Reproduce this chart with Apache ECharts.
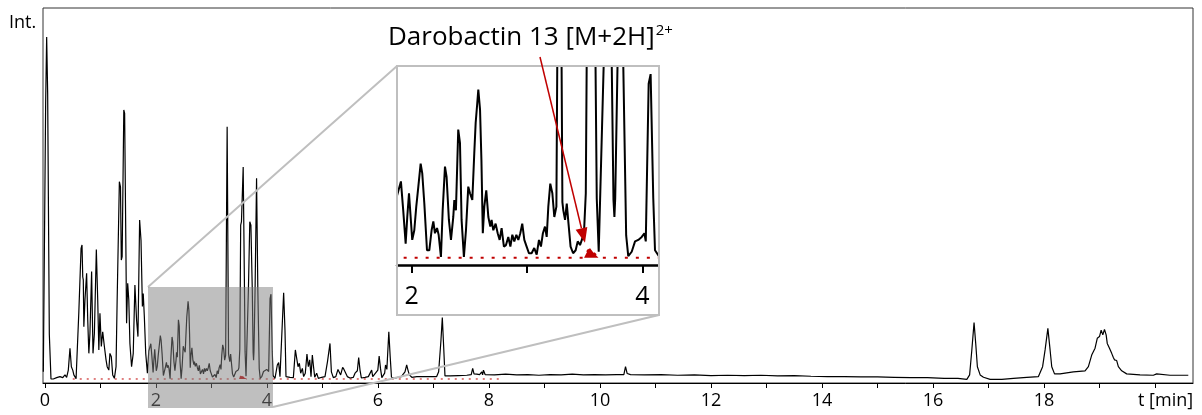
<!DOCTYPE html>
<html>
<head>
<meta charset="utf-8">
<script src="https://cdn.jsdelivr.net/npm/echarts@6/dist/echarts.min.js"></script>
<style>
  html, body { margin: 0; padding: 0; background: #fff; }
  #chart { width: 1202px; height: 415px; }
</style>
</head>
<body>
<div id="chart"></div>
<script>
// Total ion chromatogram, [retention time (min), relative intensity]
const ticEarly = [
  [-0.03, 2.1], [-0.006, 2.6], [0.012, 81], [0.03, 100], [0.048, 83.5], [0.078, 13], [0.108, 0],
  [0.15, 0], [0.21, 0.4], [0.27, 0.7], [0.32, 0.4], [0.36, 1.2], [0.39, 0.5], [0.42, 2.6],
  [0.45, 9.0], [0.475, 3.6], [0.5, 2.6], [0.52, 1.2], [0.56, 0.1], [0.595, 0.1], [0.61, 19.7],
  [0.63, 19.2], [0.65, 38.2], [0.667, 39.2], [0.68, 29.9], [0.69, 29], [0.70, 15.3], [0.72, 23.1],
  [0.75, 30.9], [0.77, 17.3], [0.79, 7.5], [0.81, 13.4], [0.84, 31.4], [0.865, 7.5], [0.89, 13.4],
  [0.925, 37.9], [0.95, 23.1], [0.97, 8.5], [0.99, 19.2], [1.015, 9.5], [1.04, 13.8], [1.07, 9.5],
  [1.10, 5.6], [1.12, 3.6], [1.15, 2.6], [1.17, 7.5], [1.195, 6.5], [1.22, 1.2], [1.25, 0.2],
  [1.28, 3.6], [1.30, 23.1], [1.34, 57.7], [1.36, 56.2], [1.375, 34.8], [1.39, 35.8], [1.42, 78.7],
  [1.435, 77.7], [1.455, 42.6], [1.47, 16.3], [1.49, 28], [1.51, 23.1], [1.53, 10.4], [1.56, 3.6],
  [1.59, 7.5], [1.62, 27.5], [1.65, 17.3], [1.675, 12.4], [1.705, 46.5], [1.73, 40.6], [1.755, 21.2],
  [1.77, 25], [1.79, 18.2], [1.815, 7.5], [1.845, 1.7]
];
const ticZoomed = [
  [1.87, 8.2], [1.907, 10.3], [1.927, 6.4], [1.948, 1.9], [1.962, 5.5], [1.977, 8.7], [1.991, 8.7],
  [2.005, 2.4], [2.023, 3.7], [2.04, 6.9], [2.058, 9.6], [2.078, 12.7], [2.092, 11.4], [2.11, 7.3],
  [2.133, 1.0], [2.153, 1.0], [2.173, 3.7], [2.188, 4.9], [2.202, 3.3], [2.22, 4.0], [2.234, 3.1],
  [2.254, 0.1], [2.269, 6.4], [2.289, 12.3], [2.303, 10.9], [2.323, 5.1], [2.341, 2.4], [2.361, 5.5],
  [2.37, 7.8], [2.384, 6.4], [2.404, 17.3], [2.419, 15.5], [2.433, 5.1], [2.453, 0.1], [2.471, 3.7],
  [2.491, 9.6], [2.506, 8.7], [2.526, 7.8], [2.543, 14.1], [2.555, 18.2], [2.569, 20.9], [2.578, 22.7],
  [2.593, 20.0], [2.605, 13.2], [2.617, 3.3], [2.63, 6.9], [2.647, 9.1], [2.665, 5.5], [2.682, 4.2],
  [2.693, 5.1], [2.708, 3.7], [2.728, 4.6], [2.746, 3.3], [2.763, 2.4], [2.78, 4.0], [2.8, 1.5],
  [2.818, 1.7], [2.838, 2.8], [2.856, 1.5], [2.873, 3.1], [2.89, 2.2], [2.908, 3.1], [2.925, 2.4],
  [2.942, 3.3], [2.959, 4.6], [2.977, 2.4], [2.997, 1.5], [3.017, 0.6], [3.04, 0.6], [3.063, 1.3],
  [3.084, 0.4], [3.104, 2.4], [3.121, 1.5], [3.138, 3.3], [3.156, 4.2], [3.171, 2.8], [3.185, 6.9],
  [3.202, 10.0], [3.22, 8.7], [3.237, 5.5], [3.255, 6.9], [3.27, 45], [3.282, 73.8], [3.293, 45],
  [3.307, 7.5], [3.315, 6.4], [3.33, 5.1], [3.345, 7.3], [3.36, 4.6], [3.378, 1.5], [3.40, 0.6],
  [3.422, 1.0], [3.44, 2.2], [3.46, 1.7], [3.48, 2.6], [3.494, 3.3], [3.51, 8.7], [3.526, 45],
  [3.54, 46], [3.571, 62], [3.592, 30], [3.605, 8], [3.622, 0.8], [3.665, 26], [3.69, 46],
  [3.71, 45], [3.735, 26], [3.75, 7.8], [3.758, 5.5], [3.765, 8], [3.785, 26], [3.812, 58.7],
  [3.835, 26], [3.86, 3], [3.878, 0.2], [3.908, 0.8], [3.937, 2.2], [3.965, 2.4], [3.995, 2.8],
  [4.018, 3.3], [4.03, 2.2], [4.055, 23.5], [4.072, 24.8], [4.095, 8], [4.11, 1.0], [4.125, 0.8]
];
const ticLate = [
  [4.144, 0.2], [4.186, 4.1], [4.21, 4.8], [4.234, 0.7], [4.27, 0.5], [4.30, 25.2], [4.324, 14.3],
  [4.342, 0.7], [4.414, 0.5], [4.475, 0.4], [4.511, 8.5], [4.535, 8.7], [4.559, 3.6], [4.583, 4.6],
  [4.607, 1.7], [4.637, 3.1], [4.66, 0.7], [4.69, 1.7], [4.72, 7.3], [4.745, 3.6], [4.77, 5.6],
  [4.793, 0.7], [4.817, 7.0], [4.835, 4.1], [4.86, 0.5], [4.895, 1.7], [4.925, 0.2], [4.985, 0.5],
  [5.045, 0.7], [5.09, 5.1], [5.11, 4.6], [5.135, 10.4], [5.16, 2.1], [5.195, 0.4], [5.24, 0.7],
  [5.279, 2.8], [5.30, 2.6], [5.327, 1.2], [5.363, 3.4], [5.387, 2.8], [5.41, 2.6], [5.447, 0.7],
  [5.495, 0.3], [5.556, 0.5], [5.586, 1.7], [5.628, 2.4], [5.652, 6.3], [5.676, 2.6], [5.70, 0.3],
  [5.766, 0.5], [5.826, 0.7], [5.886, 2.6], [5.905, 0.7], [5.997, 2.6], [6.021, 6.7], [6.045, 3.1],
  [6.069, 0.4], [6.09, 0.7], [6.12, 1.7], [6.136, 4.1], [6.16, 2.8], [6.195, 13.8], [6.22, 6.5],
  [6.243, 0.5], [6.30, 0.2], [6.36, 0.5], [6.42, 0.7], [6.456, 0.7], [6.486, 2.1], [6.517, 4.1],
  [6.54, 2.6], [6.565, 1.2], [6.61, 0.5], [6.70, 0.7], [6.82, 0.7], [6.94, 0.7], [7.057, 0.7],
  [7.093, 2.1], [7.117, 1.7], [7.135, 11.4], [7.159, 18.0], [7.183, 9.5], [7.207, 0.9]
];
const ticTail = [
  [7.30, 0.9], [7.45, 1.0], [7.6, 1.1], [7.68, 1.3], [7.706, 3.1], [7.73, 1.5], [7.78, 1.4],
  [7.80, 1.9], [7.83, 1.3], [7.87, 2.1], [7.885, 1.2], [7.90, 2.6], [7.93, 1.3], [8.1, 1.2],
  [8.3, 1.4], [8.5, 1.2], [8.7, 1.3], [8.9, 1.1], [9.1, 1.3], [9.3, 1.2], [9.5, 1.4], [9.7, 1.2],
  [9.9, 1.3], [10.1, 1.2], [10.3, 1.3], [10.43, 1.3], [10.46, 3.6], [10.49, 1.6], [10.55, 1.3],
  [10.8, 1.2], [11.1, 1.3], [11.4, 1.1], [11.7, 1.2], [12.0, 1.0], [12.3, 1.1], [12.6, 1.0],
  [12.9, 1.1], [13.2, 0.9], [13.5, 1.0], [13.8, 0.8], [14.1, 0.7], [14.4, 0.7], [14.7, 0.6],
  [15.0, 0.6], [15.3, 0.5], [15.6, 0.4], [15.9, 0.4], [16.2, 0.2], [16.45, 0.2], [16.61, -0.1],
  [16.66, 1.2], [16.70, 8.5], [16.74, 16.5], [16.77, 10.4], [16.80, 3.6], [16.85, 1.2], [16.91, 0.5],
  [17.03, -0.1], [17.24, -0.1], [17.45, 0.2], [17.69, 0.5], [17.90, 0.7], [17.975, 3.6], [18.02, 8.5],
  [18.07, 14.8], [18.11, 8.5], [18.14, 3.6], [18.19, 1.5], [18.29, 1.5], [18.53, 2.1], [18.74, 2.4],
  [18.80, 3.6], [18.86, 7.0], [18.92, 9.0], [18.96, 11.9], [19.0, 12.4], [19.03, 14.3], [19.06, 12.9],
  [19.09, 14.5], [19.12, 12.9], [19.14, 10.4], [19.18, 9.0], [19.22, 7.5], [19.25, 6.3], [19.27, 5.6],
  [19.31, 5.4], [19.34, 3.6], [19.40, 2.4], [19.49, 1.5], [19.73, 1.2], [19.97, 1.1], [20.03, 1.5],
  [20.06, 1.1], [20.27, 1.1], [20.6, 1.1]
];

// Extracted ion trace of the doubly charged ion
const eicTime = [0.5, 3.495, 3.525, 3.546, 3.57, 3.62, 8.2];
const eicIntensity = [0, 0, 0.9, 1.3, 0.8, 0, 0];

// Axis ticks and labels (min)
const xTickValues = [0, 1, 2, 3, 4, 5, 6, 7, 8, 9, 10, 11, 12, 13, 14, 15, 16, 17, 18, 19, 20];
const xLabelValues = [0, 2, 4, 6, 8, 10, 12, 14, 16, 18];
const insetTickValues = [2, 3, 4];
const insetLabelValues = [2, 4];

// Zoomed window and annotated ion
const zoomWindow = [1.856, 4.108];
const zoomWindowTop = 26.9;
const ionApex = [3.503, 2.0];
const ionLabel = 'Darobactin 13 [M+2H]';
const ionCharge = '2+';

const FONT = '"Open Sans", "DejaVu Sans", sans-serif';
const RED = '#c00000';

const tic = ticEarly.concat(ticZoomed, ticLate, ticTail);
const eic = eicTime.map((t, k) => [t, eicIntensity[k]]);

const chart = echarts.init(document.getElementById('chart'), null, { renderer: 'canvas' });

chart.setOption({
  animation: false,
  grid: [
    { left: 43, right: 9, top: 8, bottom: 32, show: true, borderColor: '#333', borderWidth: 1 },
    { left: 397, top: 66, width: 261, height: 199 }
  ],
  xAxis: [
    {
      gridIndex: 0, type: 'value', min: -0.036, max: 20.685,
      axisLine: { onZero: false, lineStyle: { color: '#000', width: 1 } },
      axisTick: { length: 5, customValues: xTickValues, lineStyle: { color: '#000', width: 1 } },
      axisLabel: { customValues: xLabelValues, fontFamily: FONT, fontSize: 18, color: '#000', margin: 9 },
      splitLine: { show: false }
    },
    {
      gridIndex: 1, type: 'value', min: 1.873, max: 4.136,
      axisLine: { onZero: false, lineStyle: { color: '#000', width: 2.5 } },
      axisTick: { length: 8, customValues: insetTickValues, lineStyle: { color: '#000', width: 2 } },
      axisLabel: { customValues: insetLabelValues, fontFamily: FONT, fontSize: 25, color: '#000', margin: 19 },
      splitLine: { show: false }
    }
  ],
  yAxis: [
    { gridIndex: 0, type: 'value', min: -1.17, max: 108.5, show: false },
    { gridIndex: 1, type: 'value', min: -0.99, max: 25.9, show: false }
  ],
  series: [
    {
      type: 'line', xAxisIndex: 0, yAxisIndex: 0, data: eic, showSymbol: false, z: 2,
      lineStyle: { color: RED, width: 1, type: [2, 5] },
      areaStyle: { color: RED, opacity: 1 }
    },
    {
      type: 'line', xAxisIndex: 0, yAxisIndex: 0, data: tic, showSymbol: false, z: 3,
      lineStyle: { color: '#000', width: 1.2 }
    },
    {
      type: 'line', xAxisIndex: 1, yAxisIndex: 1, data: eic, showSymbol: false, z: 2,
      lineStyle: { color: RED, width: 2, type: [3, 8] },
      areaStyle: { color: RED, opacity: 1 }
    },
    {
      type: 'line', xAxisIndex: 1, yAxisIndex: 1, data: tic, showSymbol: false, z: 3,
      lineStyle: { color: '#000', width: 2 }
    }
  ]
});

// Highlight box, inset frame, connectors and the ion annotation
const px = (g, v) => chart.convertToPixel({ gridIndex: g }, v);
const tl = px(0, [zoomWindow[0], zoomWindowTop]);
const tr = px(0, [zoomWindow[1], zoomWindowTop]);
const boxBottom = 408;
const inset = { x: 397, y: 66, w: 262, h: 249 };

const tip = px(1, ionApex);
const tail = [540, 57];
const dx = tip[0] - tail[0], dy = tip[1] - tail[1];
const len = Math.hypot(dx, dy);
const ux = dx / len, uy = dy / len;
const headLen = 15, headHalf = 6;
const bx = tip[0] - headLen * ux, by = tip[1] - headLen * uy;

// place the charge superscript right after the measured label
const labelSize = 26, labelX = 388;
const measure = document.createElement('canvas').getContext('2d');
measure.font = labelSize + 'px ' + FONT;
const labelEnd = labelX + measure.measureText(ionLabel).width;

chart.setOption({
  graphic: [
    {
      type: 'rect', z: 20, silent: true,
      shape: { x: tl[0], y: tl[1], width: tr[0] - tl[0], height: boxBottom - tl[1] },
      style: { fill: 'rgba(128,128,128,0.5)' }
    },
    {
      type: 'line', z: 15, silent: true,
      shape: { x1: tl[0], y1: tl[1], x2: inset.x, y2: inset.y },
      style: { stroke: '#bfbfbf', lineWidth: 2 }
    },
    {
      type: 'line', z: 15, silent: true,
      shape: { x1: tr[0], y1: boxBottom - 1, x2: inset.x + inset.w, y2: inset.y + inset.h },
      style: { stroke: '#bfbfbf', lineWidth: 2 }
    },
    {
      type: 'rect', z: 15, silent: true,
      shape: { x: inset.x, y: inset.y, width: inset.w, height: inset.h },
      style: { fill: 'none', stroke: '#bfbfbf', lineWidth: 2 }
    },
    {
      type: 'line', z: 30, silent: true,
      shape: { x1: tail[0], y1: tail[1], x2: bx, y2: by },
      style: { stroke: RED, lineWidth: 1.5 }
    },
    {
      type: 'polygon', z: 30, silent: true,
      shape: { points: [tip, [bx - headHalf * uy, by + headHalf * ux], [bx + headHalf * uy, by - headHalf * ux]] },
      style: { fill: RED }
    },
    {
      type: 'text', z: 30, silent: true,
      style: { text: ionLabel, x: labelX, y: 38, fontFamily: FONT, fontSize: labelSize, fill: '#000', verticalAlign: 'middle' }
    },
    {
      type: 'text', z: 30, silent: true,
      style: { text: ionCharge, x: labelEnd + 1, y: 31, fontFamily: FONT, fontSize: 15, fill: '#000', verticalAlign: 'middle' }
    },
    {
      type: 'text', z: 30, silent: true,
      style: { text: 'Int.', x: 9, y: 23, fontFamily: FONT, fontSize: 18, fill: '#000', verticalAlign: 'middle' }
    },
    {
      type: 'text', z: 30, silent: true,
      style: { text: 't [min]', x: 1138, y: 401, fontFamily: FONT, fontSize: 18, fill: '#000', verticalAlign: 'middle' }
    }
  ]
});
</script>
</body>
</html>
